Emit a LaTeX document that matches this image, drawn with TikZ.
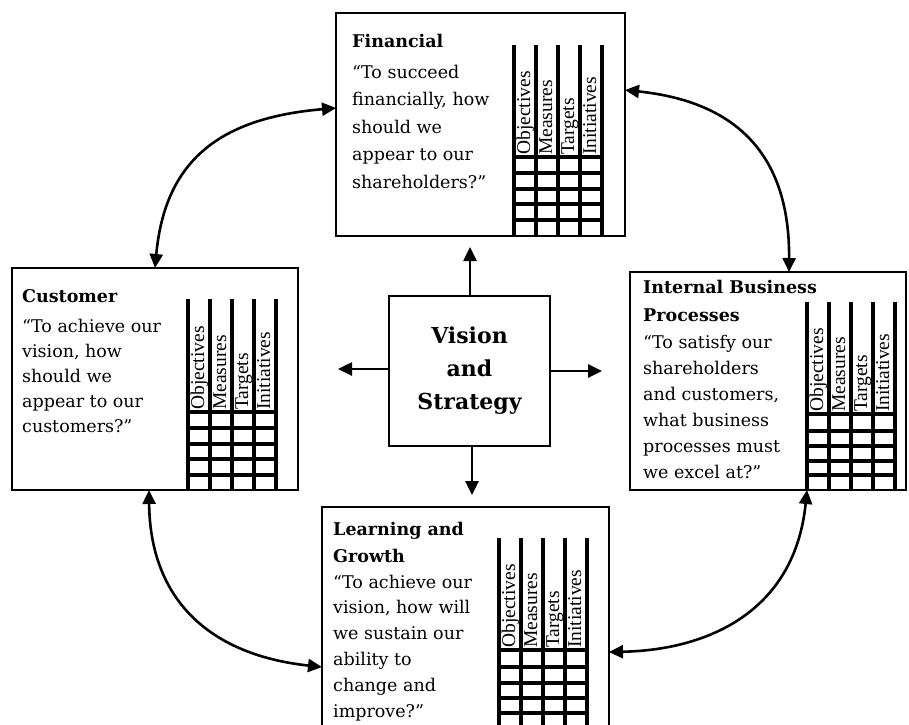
\documentclass[tikz,border=0pt]{standalone}
\usepackage{fontspec}
\setmainfont{DejaVu Serif}
\newfontfamily\labfont{Liberation Serif}
\usetikzlibrary{arrows.meta}

% table: #1 first x, #2 top of columns, #3 first grid row, #4 bottom, #5 other row ys
\newcommand\bsctable[5]{%
  \foreach \k in {0,...,4} \draw[tab] ({#1+22*\k},#2) -- ({#1+22*\k},#4);
  \foreach \yy in {#3,#5} \draw[tab] (#1,\yy) -- ({#1+88},\yy);
}
% column labels: #1 name prefix, #2 first x, #3 first grid row
\newcommand\collabels[3]{%
  \foreach \w [count=\k from 1] in {Objectives,Measures,Targets,Initiatives}
    \node[collab] (#1\k) at ({#2+22*\k-6},{#3-2}) {\w};
}
% text lines: #1 name prefix, #2 x, #3 first baseline, #4 line step, #5 lines
\newcommand\txtlines[5]{%
  \foreach \ln [count=\i from 0] in {#5}
    \node[txt] (#1\i) at (#2,{#3+\i*#4}) {\ln};
}

\begin{document}
\begin{tikzpicture}[x=1pt,y=-1pt,
  box/.style={draw, line width=2.5pt, inner sep=0pt},
  tab/.style={line width=3.4pt},
  tipA/.tip={Triangle[length=14pt,width=13pt]},
  arr/.style={line width=2.6pt, -tipA},
  barr/.style={line width=2.6pt, tipA-tipA},
  txt/.style={anchor=base west, inner sep=0pt, font=\fontsize{17.5}{21}\selectfont},
  ttl/.style={anchor=base west, inner sep=0pt, font=\fontsize{17.5}{21}\selectfont\bfseries},
  collab/.style={rotate=90, anchor=base west, inner sep=0pt, font=\labfont\fontsize{19.5}{22}\selectfont},
]
\useasboundingbox (0,0) rectangle (909,724);
\fill[white] (0,0) rectangle (909,724);
\clip (0,0) rectangle (909,724);

% ---------- boxes ----------
\node[box, minimum width=289pt, minimum height=223pt] (fin) at (480.5,124.5) {};
\node[box, minimum width=286pt, minimum height=222pt] (cus) at (155,379) {};
\node[box, minimum width=276pt, minimum height=218pt] (int) at (768,381) {};
\node[box, minimum width=287pt, minimum height=233pt] (lrn) at (465.5,623.5) {};
\node[box, minimum width=161pt, minimum height=150pt, align=center,
      font=\fontsize{22}{33}\selectfont\bfseries] (vis) at (469.5,371) {Vision\\and\\Strategy};

% ---------- tables ----------
\bsctable{514}{45}{157}{236}{173,189,204,220}
\bsctable{188}{299}{412}{490}{428,444,459,475}
\bsctable{807}{302}{414}{490}{431,446,461,475}
\bsctable{499}{538}{650}{740}{667,683,698,713,729}

\collabels{finc}{514}{157}
\collabels{cusc}{188}{412}
\collabels{intc}{807}{414}
\collabels{lrnc}{499}{650}

% ---------- texts ----------
\node[ttl] (fint) at (352,47) {Financial};
\txtlines{finl}{352}{78}{27.5}{{“To succeed},{financially, how},{should we},{appear to our},{shareholders?”}}

\node[ttl] (cust) at (22,302) {Customer};
\txtlines{cusl}{22}{332}{25}{{“To achieve our},{vision, how},{should we},{appear to our},{customers?”}}

\txtlines{intt}{643}{293}{28}{{\bfseries Internal Business},{\bfseries Processes}}
\txtlines{intl}{643}{348}{26}{{“To satisfy our},{shareholders},{and customers,},{what business},{processes must},{we excel at?”}}

\txtlines{lrnt}{333}{535}{27}{{\bfseries Learning and},{\bfseries Growth}}
\txtlines{lrnl}{333}{588}{25.8}{{“To achieve our},{vision, how will},{we sustain our},{ability to},{change and},{improve?”}}

% ---------- connector ends ----------
\coordinate (fin-l) at (336,108);
\coordinate (fin-r) at (625,90);
\coordinate (cus-t) at (155,268);
\coordinate (cus-b) at (149,490);
\coordinate (int-t) at (789,272);
\coordinate (int-b) at (807,490);
\coordinate (lrn-l) at (322,667);
\coordinate (lrn-r) at (609,652);
\coordinate (vis-up) at (470,247);
\coordinate (vis-lt) at (338,369);
\coordinate (vis-rt) at (602,371);
\coordinate (vis-dn) at (472,495);

% ---------- connectors ----------
\draw[arr] (vis.north -| vis-up) -- (vis-up);
\draw[arr] (vis.west |- vis-lt) -- (vis-lt);
\draw[arr] (vis.east |- vis-rt) -- (vis-rt);
\draw[arr] (vis.south -| vis-dn) -- (vis-dn);

\draw[barr] (cus-t) .. controls (165,160) and (220,118) .. (fin-l);
\draw[barr] (fin-r) .. controls (720,100) and (790,140) .. (int-t);
\draw[barr] (cus-b) .. controls (150,600) and (210,655) .. (lrn-l);
\draw[barr] (int-b) .. controls (795,610) and (710,650) .. (lrn-r);
\end{tikzpicture}
\end{document}
